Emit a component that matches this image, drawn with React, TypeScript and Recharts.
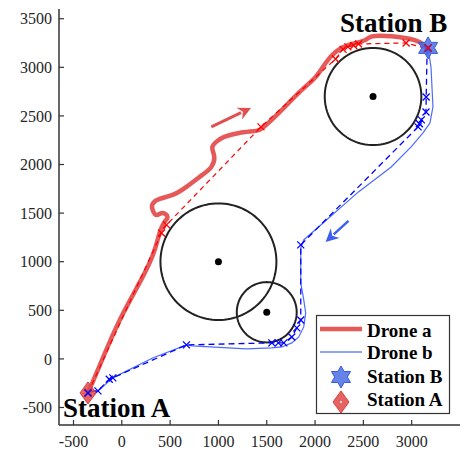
import React from 'react';
import { ComposedChart, Line, Scatter, XAxis, YAxis, ReferenceLine } from 'recharts';

// axis ticks
const xTicks = [-500, 0, 500, 1000, 1500, 2000, 2500, 3000];
const yTicks = [-500, 0, 500, 1000, 1500, 2000, 2500, 3000, 3500];

// Drone a – flown (smoothed) trajectory
const droneAX = [-350, -226, -21, 216, 340, 391, 442, 473, 422, 360, 319, 319, 391, 525, 669, 833, 926, 957, 936, 977, 1060, 1214, 1389, 1471, 1626, 1831, 2006, 2109, 2212, 2346, 2521, 2623, 2932, 3097, 3169];
const droneAY = [-350, -62, 401, 844, 1121, 1296, 1409, 1461, 1502, 1481, 1533, 1595, 1646, 1687, 1770, 1893, 1975, 2078, 2171, 2233, 2284, 2325, 2346, 2387, 2531, 2737, 2901, 3045, 3158, 3230, 3282, 3323, 3302, 3251, 3179];

// Drone a – planned waypoints
const planAX = [-350, 411, 463, 1440, 2212, 2290, 2340, 2400, 2450, 2942, 3160];
const planAY = [-350, 1296, 1379, 2387, 3086, 3185, 3210, 3225, 3240, 3251, 3190];

// Drone b – flown trajectory
const droneBX = [3170, 3200, 3210, 3220, 3189, 3117, 2994, 2788, 2449, 1883, 1852, 1852, 1883, 1903, 1883, 1831, 1759, 1656, 1553, 1286, 730, 669, 319, -93, -247, -350];
const droneBY = [3200, 3000, 2798, 2593, 2428, 2325, 2181, 1975, 1718, 1224, 1142, 782, 607, 473, 329, 226, 165, 123, 113, 103, 134, 144, 10, -195, -329, -340];

// Drone b – planned waypoints
const planBX = [3160, 3150, 3148, 3100, 3080, 3066, 1852, 1852, 1811, 1759, 1677, 1620, 1553, 669, -93, -130, -247, -350];
const planBY = [3190, 2695, 2541, 2459, 2420, 2387, 1173, 401, 319, 226, 165, 165, 165, 144, -195, -210, -329, -340];

// obstacles
const obstacleX = [1000, 1500, 2600];
const obstacleY = [1000, 480, 2700];
const obstacleR = [600, 310, 500];

// stations
const stationA = { x: -350, y: -350 };
const stationB = { x: 3170, y: 3200 };

const zip = (xs: number[], ys: number[]) => xs.map((x, i) => ({ x, y: ys[i] }));

const ring = (cx: number, cy: number, r: number) =>
  Array.from({ length: 121 }, (_, i) => {
    const t = (i / 120) * 2 * Math.PI;
    return { x: cx + r * Math.cos(t), y: cy + r * Math.sin(t) };
  });

const FONT = "'Liberation Serif', 'Times New Roman', serif";
const AXIS = '#333333';

const XMark = (color: string) => (p: any) => {
  const { cx, cy } = p;
  const s = 3.5;
  return (
    <path
      d={`M${cx - s},${cy - s}L${cx + s},${cy + s}M${cx - s},${cy + s}L${cx + s},${cy - s}`}
      stroke={color}
      strokeWidth={1.3}
      fill="none"
    />
  );
};

const starPath = (cx: number, cy: number, R: number) => {
  const r = R / Math.sqrt(3);
  const pts: string[] = [];
  for (let k = 0; k < 12; k++) {
    const a = ((-90 + k * 30) * Math.PI) / 180;
    const rr = k % 2 === 0 ? R : r;
    pts.push(`${cx + rr * Math.cos(a)},${cy + rr * Math.sin(a)}`);
  }
  return `M${pts.join('L')}Z`;
};

const StarShape = (p: any) => (
  <path d={starPath(p.cx, p.cy, 11)} fill="#4a6fe3" fillOpacity={0.85} stroke="#3a5ad8" strokeWidth={1} />
);

const DiamondShape = (p: any) => {
  const { cx, cy } = p;
  return (
    <path
      d={`M${cx},${cy - 11}L${cx + 8},${cy}L${cx},${cy + 11}L${cx - 8},${cy}Z`}
      fill="#e04848"
      fillOpacity={0.85}
      stroke="#d84040"
    />
  );
};

const CenterDot = (p: any) => <circle cx={p.cx} cy={p.cy} r={3.5} fill="#000" />;

const arrowShape = (color: string, width: number) => (p: any) => {
  const { x1, y1, x2, y2 } = p;
  const dx = x2 - x1;
  const dy = y2 - y1;
  const len = Math.hypot(dx, dy);
  const ux = dx / len;
  const uy = dy / len;
  const hl = 13;
  const hw = 6.5;
  const bx = x2 - ux * hl;
  const by = y2 - uy * hl;
  return (
    <g>
      <line x1={x1} y1={y1} x2={bx + ux * 2} y2={by + uy * 2} stroke={color} strokeWidth={width} />
      <path
        d={`M${x2},${y2}L${bx - uy * hw},${by + ux * hw}L${bx + ux * 4},${by + uy * 4}L${bx + uy * hw},${by - ux * hw}Z`}
        fill={color}
      />
    </g>
  );
};

const noTick = () => <g />;

export default function App() {
  const tickStyle = { fill: '#262626', fontSize: 16, fontFamily: FONT };
  return (
    <div style={{ position: 'absolute', left: 0, top: 0, width: 462, height: 455, background: '#fff' }}>
      <ComposedChart width={462} height={455} margin={{ top: 9, right: 2, bottom: 0, left: 0 }}>
        <XAxis
          dataKey="x"
          type="number"
          domain={[-650, 3500]}
          ticks={xTicks}
          allowDataOverflow
          height={30}
          tickSize={-5}
          tickMargin={16}
          tick={tickStyle}
          axisLine={{ stroke: AXIS, strokeWidth: 1.5 }}
          tickLine={{ stroke: AXIS, strokeWidth: 1.2 }}
        />
        <XAxis
          xAxisId="top"
          orientation="top"
          dataKey="x"
          type="number"
          domain={[-650, 3500]}
          ticks={xTicks}
          height={0}
          tickSize={-5}
          tick={noTick}
          axisLine={{ stroke: AXIS, strokeWidth: 1.5 }}
          tickLine={{ stroke: AXIS, strokeWidth: 1.2 }}
        />
        <YAxis
          dataKey="y"
          type="number"
          domain={[-680, 3600]}
          ticks={yTicks}
          allowDataOverflow
          width={59}
          tickSize={-5}
          tickMargin={12}
          tick={tickStyle}
          axisLine={{ stroke: AXIS, strokeWidth: 1.5 }}
          tickLine={{ stroke: AXIS, strokeWidth: 1.2 }}
        />
        <YAxis
          yAxisId="right"
          orientation="right"
          dataKey="y"
          type="number"
          domain={[-680, 3600]}
          ticks={yTicks}
          width={0}
          tickSize={-5}
          tick={noTick}
          axisLine={{ stroke: AXIS, strokeWidth: 1.5 }}
          tickLine={{ stroke: AXIS, strokeWidth: 1.2 }}
        />

        {obstacleX.map((cx, i) => (
          <Line
            key={`obs-${i}`}
            data={ring(cx, obstacleY[i], obstacleR[i])}
            dataKey="y"
            type="linear"
            stroke="#222"
            strokeWidth={2}
            dot={false}
            isAnimationActive={false}
          />
        ))}
        <Scatter data={zip(obstacleX, obstacleY)} shape={CenterDot} isAnimationActive={false} />

        <Line
          data={zip(droneAX, droneAY)}
          dataKey="y"
          type="natural"
          stroke="#e03c3c"
          strokeOpacity={0.85}
          strokeWidth={4.5}
          strokeLinecap="round"
          dot={false}
          isAnimationActive={false}
        />
        <Scatter
          data={zip(planAX, planAY)}
          line={{ stroke: '#ff0000', strokeWidth: 1.2, strokeDasharray: '5 4' }}
          lineType="joint"
          shape={XMark('#ff0000')}
          isAnimationActive={false}
        />

        <Line
          data={zip(droneBX, droneBY)}
          dataKey="y"
          type="linear"
          stroke="#4d6cff"
          strokeWidth={1.2}
          dot={false}
          isAnimationActive={false}
        />
        <Scatter
          data={zip(planBX, planBY)}
          line={{ stroke: '#0000ff', strokeWidth: 1.3, strokeDasharray: '6 4' }}
          lineType="joint"
          shape={XMark('#0000ff')}
          isAnimationActive={false}
        />

        <ReferenceLine
          segment={[{ x: 926, y: 2387 }, { x: 1337, y: 2582 }]}
          shape={arrowShape('#e05050', 3)}
          ifOverflow="visible"
        />
        <ReferenceLine
          segment={[{ x: 2346, y: 1420 }, { x: 2109, y: 1204 }]}
          shape={arrowShape('#3f5ff0', 2.5)}
          ifOverflow="visible"
        />

        <Scatter data={[stationB]} shape={StarShape} isAnimationActive={false} />
        <Scatter data={[stationA]} shape={DiamondShape} isAnimationActive={false} />
        <Scatter data={[stationB, stationA]} shape={XMark('#0000ff')} isAnimationActive={false} />
        <Scatter data={[stationB]} shape={XMark('#ff0000')} isAnimationActive={false} />
      </ComposedChart>

      <svg
        width={462}
        height={455}
        style={{ position: 'absolute', left: 0, top: 0, pointerEvents: 'none' }}
        fontFamily={FONT}
        fontWeight="bold"
      >
        <text x={340} y={32} fontSize={27} fill="#000">Station B</text>
        <text x={63} y={417} fontSize={27} fill="#000">Station A</text>

        <rect x={316.5} y={315.5} width={133} height={98} fill="#fff" stroke="#333" strokeWidth={1.2} />
        <line x1={320} y1={329} x2={362} y2={329} stroke="#e03c3c" strokeOpacity={0.85} strokeWidth={4.5} />
        <text x={367} y={337} fontSize={19} fill="#000">Drone a</text>
        <line x1={320} y1={352} x2={362} y2={352} stroke="#6a86f5" strokeWidth={1.5} />
        <text x={367} y={359} fontSize={19} fill="#000">Drone b</text>
        <path d={starPath(341, 377, 11)} fill="#4a6fe3" fillOpacity={0.85} stroke="#3a5ad8" />
        <text x={367} y={383} fontSize={19} fill="#000">Station B</text>
        <path d="M341,391L349,402L341,413L333,402Z" fill="#e04848" fillOpacity={0.85} stroke="#d84040" />
        <circle cx={341} cy={402} r={1} fill="#fff" />
        <text x={367} y={406} fontSize={19} fill="#000">Station A</text>
      </svg>
    </div>
  );
}
